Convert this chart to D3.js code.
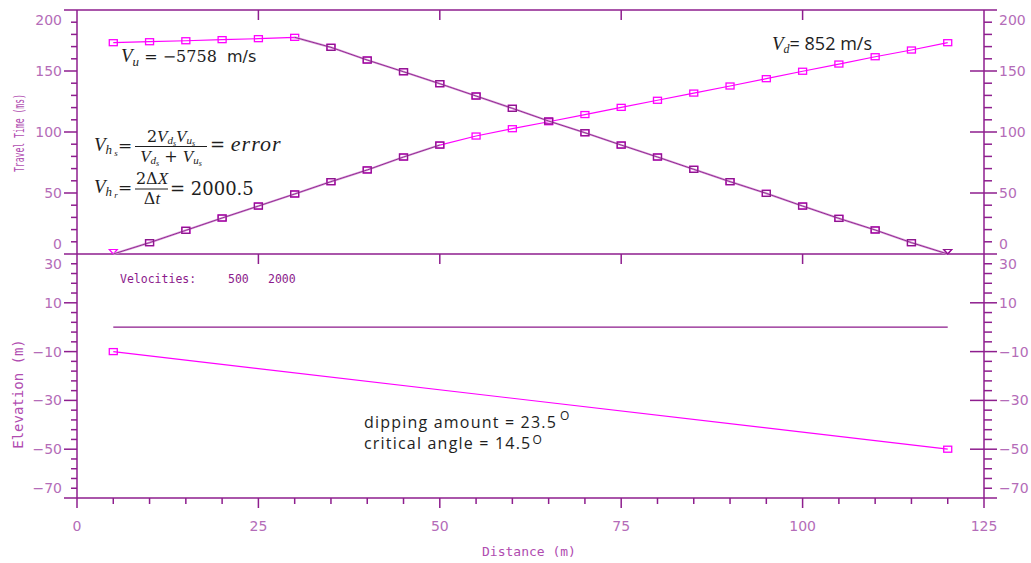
<!DOCTYPE html>
<html>
<head>
<meta charset="utf-8">
<script src="https://cdn.jsdelivr.net/npm/d3@7"></script>
<style>
  body { margin: 0; background: #fff; }
  svg { display: block; }
  text { white-space: pre; }
</style>
</head>
<body>
<div id="chart"></div>
<script>
// distances of the geophones (m)
var distance = [5, 10, 15, 20, 25, 30, 35, 40, 45, 50, 55, 60, 65, 70, 75, 80, 85, 90, 95, 100, 105, 110, 115, 120];
// forward shot (down-dip) travel times, ms
var forwardTime = [0, 9.3, 19.4, 29.5, 39.3, 49.2, 59.3, 68.9, 79.5, 89.3, 96.7, 102.7, 108.4, 114.3, 120.2, 126.0, 131.9, 137.7, 143.7, 149.8, 155.7, 161.7, 167.2, 173.2];
// reverse shot (up-dip) travel times, ms
var reverseTime = [173.2, 174.0, 174.8, 175.7, 176.5, 177.6, 169.4, 159.0, 149.4, 139.6, 129.5, 119.4, 109.0, 99.4, 89.3, 79.5, 69.4, 59.3, 49.7, 39.3, 29.2, 19.7, 9.3, 0];
// picked segments (distance range) drawn in dark purple
var forwardPick = [5, 50];
var reversePick = [30, 120];
// layer model
var layerDistance = [5, 120];
var surfaceElev = [0, 0];
var refractorElev = [-10, -50];
var velocities = ["500", "2000"];
// axis ticks
var timeTicks = [200, 150, 100, 50, 0];
var elevTicks = [30, 10, -10, -30, -50, -70];
var distTicks = [0, 25, 50, 75, 100, 125];

var W = 1031, H = 563;
var MAG = "#ff00ff", PUR = "#8b1a8b", AXIS = "#8e1e8e", LBL = "#b46cb8", TXT = "#1e1e1e";

var svg = d3.select("#chart").append("svg").attr("width", W).attr("height", H);

var x = d3.scaleLinear().domain([0, 125]).range([77, 984]);
var yT = d3.scaleLinear().domain([0, 200]).range([254, 10]);
var yE = d3.scaleLinear().domain([-70, 30]).range([498, 254]);

var fmt = function (v) { return d3.format("d")(v); };

var ax = svg.append("g").attr("stroke", AXIS).attr("stroke-width", 1.5);

// frame lines
[10, 254, 498].forEach(function (yy) {
  ax.append("line").attr("x1", 64).attr("x2", 997).attr("y1", yy).attr("y2", yy);
});
ax.append("line").attr("x1", x(0)).attr("x2", x(0)).attr("y1", 10).attr("y2", 508);
ax.append("line").attr("x1", x(125)).attr("x2", x(125)).attr("y1", 10).attr("y2", 508);

// x ticks
d3.range(5, 125, 5).forEach(function (v) {
  var major = v % 25 === 0;
  ax.append("line").attr("x1", x(v)).attr("x2", x(v)).attr("y1", 498).attr("y2", major ? 508 : 504);
  if (major) {
    ax.append("line").attr("x1", x(v)).attr("x2", x(v)).attr("y1", 10).attr("y2", 20);
    ax.append("line").attr("x1", x(v)).attr("x2", x(v)).attr("y1", 254).attr("y2", 264);
  }
});

function yTicks(scale, minors, majors) {
  minors.forEach(function (v) {
    ax.append("line").attr("x1", 71).attr("x2", x(0)).attr("y1", scale(v)).attr("y2", scale(v));
    ax.append("line").attr("x1", x(125)).attr("x2", 992).attr("y1", scale(v)).attr("y2", scale(v));
  });
  majors.forEach(function (v) {
    ax.append("line").attr("x1", 64).attr("x2", x(0)).attr("y1", scale(v)).attr("y2", scale(v));
    ax.append("line").attr("x1", 970).attr("x2", 997).attr("y1", scale(v)).attr("y2", scale(v));
  });
}
yTicks(yT, d3.range(10, 200, 10).filter(function (v) { return v % 50 !== 0; }), [50, 100, 150]);
yTicks(yE, d3.range(26, -70, -4).filter(function (v) { return (v - 10) % 20 !== 0; }), [10, -10, -30, -50]);

var lab = svg.append("g").attr("font-family", "DejaVu Sans").attr("font-size", 14).attr("fill", LBL);

function yLabels(scale, ticks) {
  var r = scale.range();
  var lo = Math.min(r[0], r[1]) + 10, hi = Math.max(r[0], r[1]) - 10;
  ticks.forEach(function (v) {
    var p = Math.max(lo, Math.min(hi, scale(v)));
    var s = v < 0 ? "\u2212" + Math.abs(v) : fmt(v);
    lab.append("text").attr("x", 62).attr("y", p).attr("dy", "0.36em").attr("text-anchor", "end").text(s);
    lab.append("text").attr("x", 999).attr("y", p).attr("dy", "0.36em").text(s);
  });
}
yLabels(yT, timeTicks);
yLabels(yE, elevTicks);

distTicks.forEach(function (v) {
  lab.append("text").attr("x", x(v)).attr("y", 531).attr("text-anchor", "middle").text(fmt(v));
});

// axis titles
var ttl = svg.append("g").attr("font-family", "DejaVu Sans Mono").attr("fill", "#b04cb0");
ttl.append("text").attr("transform", "translate(24,133) rotate(-90)").attr("text-anchor", "middle")
  .attr("font-size", 14).attr("textLength", 78).attr("lengthAdjust", "spacingAndGlyphs").text("Travel Time (ms)");
ttl.append("text").attr("transform", "translate(23,394) rotate(-90)").attr("text-anchor", "middle")
  .attr("font-size", 14).text("Elevation (m)");
ttl.append("text").attr("x", 529).attr("y", 556).attr("text-anchor", "middle")
  .attr("font-size", 13).text("Distance (m)");

// data
var fwd = distance.map(function (d, i) { return { x: d, t: forwardTime[i] }; });
var rev = distance.map(function (d, i) { return { x: d, t: reverseTime[i] }; });
var inRange = function (rg) { return function (d) { return d.x >= rg[0] && d.x <= rg[1]; }; };

var lineT = d3.line().x(function (d) { return x(d.x); }).y(function (d) { return yT(d.t); });
var lineE = d3.line().x(function (d) { return x(d.x); }).y(function (d) { return yE(d.e); });

var plot = svg.append("g");

function series(data, color, width) {
  plot.append("path").datum(data).attr("d", lineT).attr("fill", "none")
    .attr("stroke", color).attr("stroke-width", width);
}
function markers(data, color) {
  plot.selectAll(null).data(data.filter(function (d) { return d.t > 0; })).enter().append("rect")
    .attr("x", function (d) { return x(d.x) - 4; }).attr("y", function (d) { return yT(d.t) - 3; })
    .attr("width", 8).attr("height", 6).attr("fill", "none").attr("stroke", color).attr("stroke-width", 1.3);
  plot.selectAll(null).data(data.filter(function (d) { return d.t === 0; })).enter().append("path")
    .attr("transform", function (d) { return "translate(" + x(d.x) + "," + yT(d.t) + ")"; })
    .attr("d", "M-4,-4.5L4,-4.5L0,0Z").attr("fill", "none").attr("stroke", color).attr("stroke-width", 1.2);
}

series(fwd, MAG, 1.2);
series(rev, MAG, 1.2);
markers(fwd, MAG);
markers(rev, MAG);

var fwdPick = fwd.filter(inRange(forwardPick));
var revPick = rev.filter(inRange(reversePick));
series(fwdPick, "#dcb0dc", 2.2);
series(revPick, "#dcb0dc", 2.2);
series(fwdPick, PUR, 0.9);
series(revPick, PUR, 0.9);
markers(fwdPick.filter(function (d) { return d.t > 0; }), PUR);
markers(revPick.filter(function (d) { return d.x > reversePick[0]; }), PUR);

// layers
var surf = layerDistance.map(function (d, i) { return { x: d, e: surfaceElev[i] }; });
var refr = layerDistance.map(function (d, i) { return { x: d, e: refractorElev[i] }; });
plot.append("path").datum(surf).attr("d", lineE).attr("fill", "none").attr("stroke", PUR).attr("stroke-width", 1.3);
plot.append("path").datum(refr).attr("d", lineE).attr("fill", "none").attr("stroke", MAG).attr("stroke-width", 1.2);
plot.selectAll(null).data(refr).enter().append("rect")
  .attr("x", function (d) { return x(d.x) - 4; }).attr("y", function (d) { return yE(d.e) - 3; })
  .attr("width", 8).attr("height", 6).attr("fill", "none").attr("stroke", MAG).attr("stroke-width", 1.3);

// velocities legend
var vel = svg.append("g").attr("font-family", "DejaVu Sans Mono").attr("font-size", 11.5).attr("fill", PUR);
vel.append("text").attr("x", 120).attr("y", 283).text("Velocities:");
vel.append("text").attr("x", 228).attr("y", 283).text(velocities[0]);
vel.append("text").attr("x", 268).attr("y", 283).text(velocities[1]);

// annotations
var ann = svg.append("g").attr("fill", TXT);
var SER = "DejaVu Serif", ITAL = "Liberation Serif";

var vu = ann.append("text").attr("x", 121).attr("y", 62).attr("font-family", SER).attr("font-size", 16);
vu.append("tspan").attr("font-family", ITAL).attr("font-style", "italic").attr("font-size", 19).text("V");
vu.append("tspan").attr("font-family", ITAL).attr("font-style", "italic").attr("font-size", 13).attr("dy", 4).text("u");
vu.append("tspan").attr("dy", -4).text(" = \u22125758 ");
vu.append("tspan").attr("font-family", "DejaVu Sans").attr("font-size", 16).text(" m/s");

var vd = ann.append("text").attr("x", 772).attr("y", 50).attr("font-family", "Open Sans").attr("font-size", 18);
vd.append("tspan").attr("font-family", ITAL).attr("font-style", "italic").attr("font-size", 19).text("V");
vd.append("tspan").attr("font-family", ITAL).attr("font-style", "italic").attr("font-size", 12).attr("dy", 3).text("d");
vd.append("tspan").attr("dy", -3).text("= 852 m/s");

function vsub(g, x0, base, sub, subsub) {
  var t = g.append("text").attr("x", x0).attr("y", base).attr("font-family", ITAL).attr("font-style", "italic");
  t.append("tspan").attr("font-size", 19).text("V");
  t.append("tspan").attr("font-size", 13).attr("dy", 3).text(sub);
  t.append("tspan").attr("font-size", 9).attr("dy", 2).text(" " + subsub);
}
function frac(g, cx, x1, x2, barY, num, den) {
  g.append("line").attr("x1", x1).attr("x2", x2).attr("y1", barY).attr("y2", barY)
    .attr("stroke", TXT).attr("stroke-width", 1);
  var n = g.append("text").attr("x", cx).attr("y", barY - 5).attr("text-anchor", "middle")
    .attr("font-family", ITAL).attr("font-style", "italic");
  num(n);
  var d = g.append("text").attr("x", cx).attr("y", barY + 15).attr("text-anchor", "middle")
    .attr("font-family", ITAL).attr("font-style", "italic");
  den(d);
}
function vpart(t, sub, first) {
  t.append("tspan").attr("font-size", 17).attr("dy", first ? 0 : -4).text("V");
  t.append("tspan").attr("font-size", 11).attr("dy", 2).text(sub);
  t.append("tspan").attr("font-size", 8).attr("dy", 2).text("s");
}

// V_hs formula
vsub(ann, 94, 151, "h", "s");
ann.append("text").attr("x", 118).attr("y", 151).attr("font-family", SER).attr("font-size", 17).text("=");
frac(ann, 171, 135, 207, 146.5,
  function (t) {
    t.append("tspan").attr("font-size", 16).attr("font-style", "normal").attr("font-family", SER).text("2");
    vpart(t, "d", true);
    vpart(t, "u", false);
  },
  function (t) {
    vpart(t, "d", true);
    t.append("tspan").attr("dy", -4).attr("font-size", 16).attr("font-style", "normal").attr("font-family", SER).text(" + ");
    vpart(t, "u", true);
  });
var er = ann.append("text").attr("x", 210).attr("y", 151).attr("font-size", 18);
er.append("tspan").attr("font-family", SER).text("= ");
er.append("tspan").attr("font-family", ITAL).attr("font-style", "italic").attr("font-size", 22)
  .attr("letter-spacing", 1).text("error");

// V_hr formula
vsub(ann, 94, 193, "h", "r");
ann.append("text").attr("x", 118).attr("y", 193).attr("font-family", SER).attr("font-size", 17).text("=");
frac(ann, 152, 135, 168, 189,
  function (t) {
    t.append("tspan").attr("font-size", 16).attr("font-style", "normal").attr("font-family", SER).text("2\u0394");
    t.append("tspan").attr("font-size", 17).text("X");
  },
  function (t) {
    t.append("tspan").attr("font-size", 16).attr("font-style", "normal").attr("font-family", SER).text("\u0394");
    t.append("tspan").attr("font-size", 17).text("t");
  });
ann.append("text").attr("x", 170).attr("y", 195).attr("font-family", SER).attr("font-size", 18).text("= 2000.5");

// dip / critical angle
var dip = ann.append("text").attr("x", 364).attr("y", 428).attr("font-family", "Open Sans")
  .attr("font-size", 16).attr("letter-spacing", 1.2);
dip.append("tspan").text("dipping amount = 23.5");
dip.append("tspan").attr("dx", 3).attr("dy", -8).attr("font-size", 12).attr("letter-spacing", 0).text("O");
var crit = ann.append("text").attr("x", 364).attr("y", 449).attr("font-family", "Open Sans")
  .attr("font-size", 16).attr("letter-spacing", 1.2);
crit.append("tspan").text("critical angle = 14.5");
crit.append("tspan").attr("dx", 1).attr("dy", -5).attr("font-size", 12).attr("letter-spacing", 0).text("O");
</script>
</body>
</html>
